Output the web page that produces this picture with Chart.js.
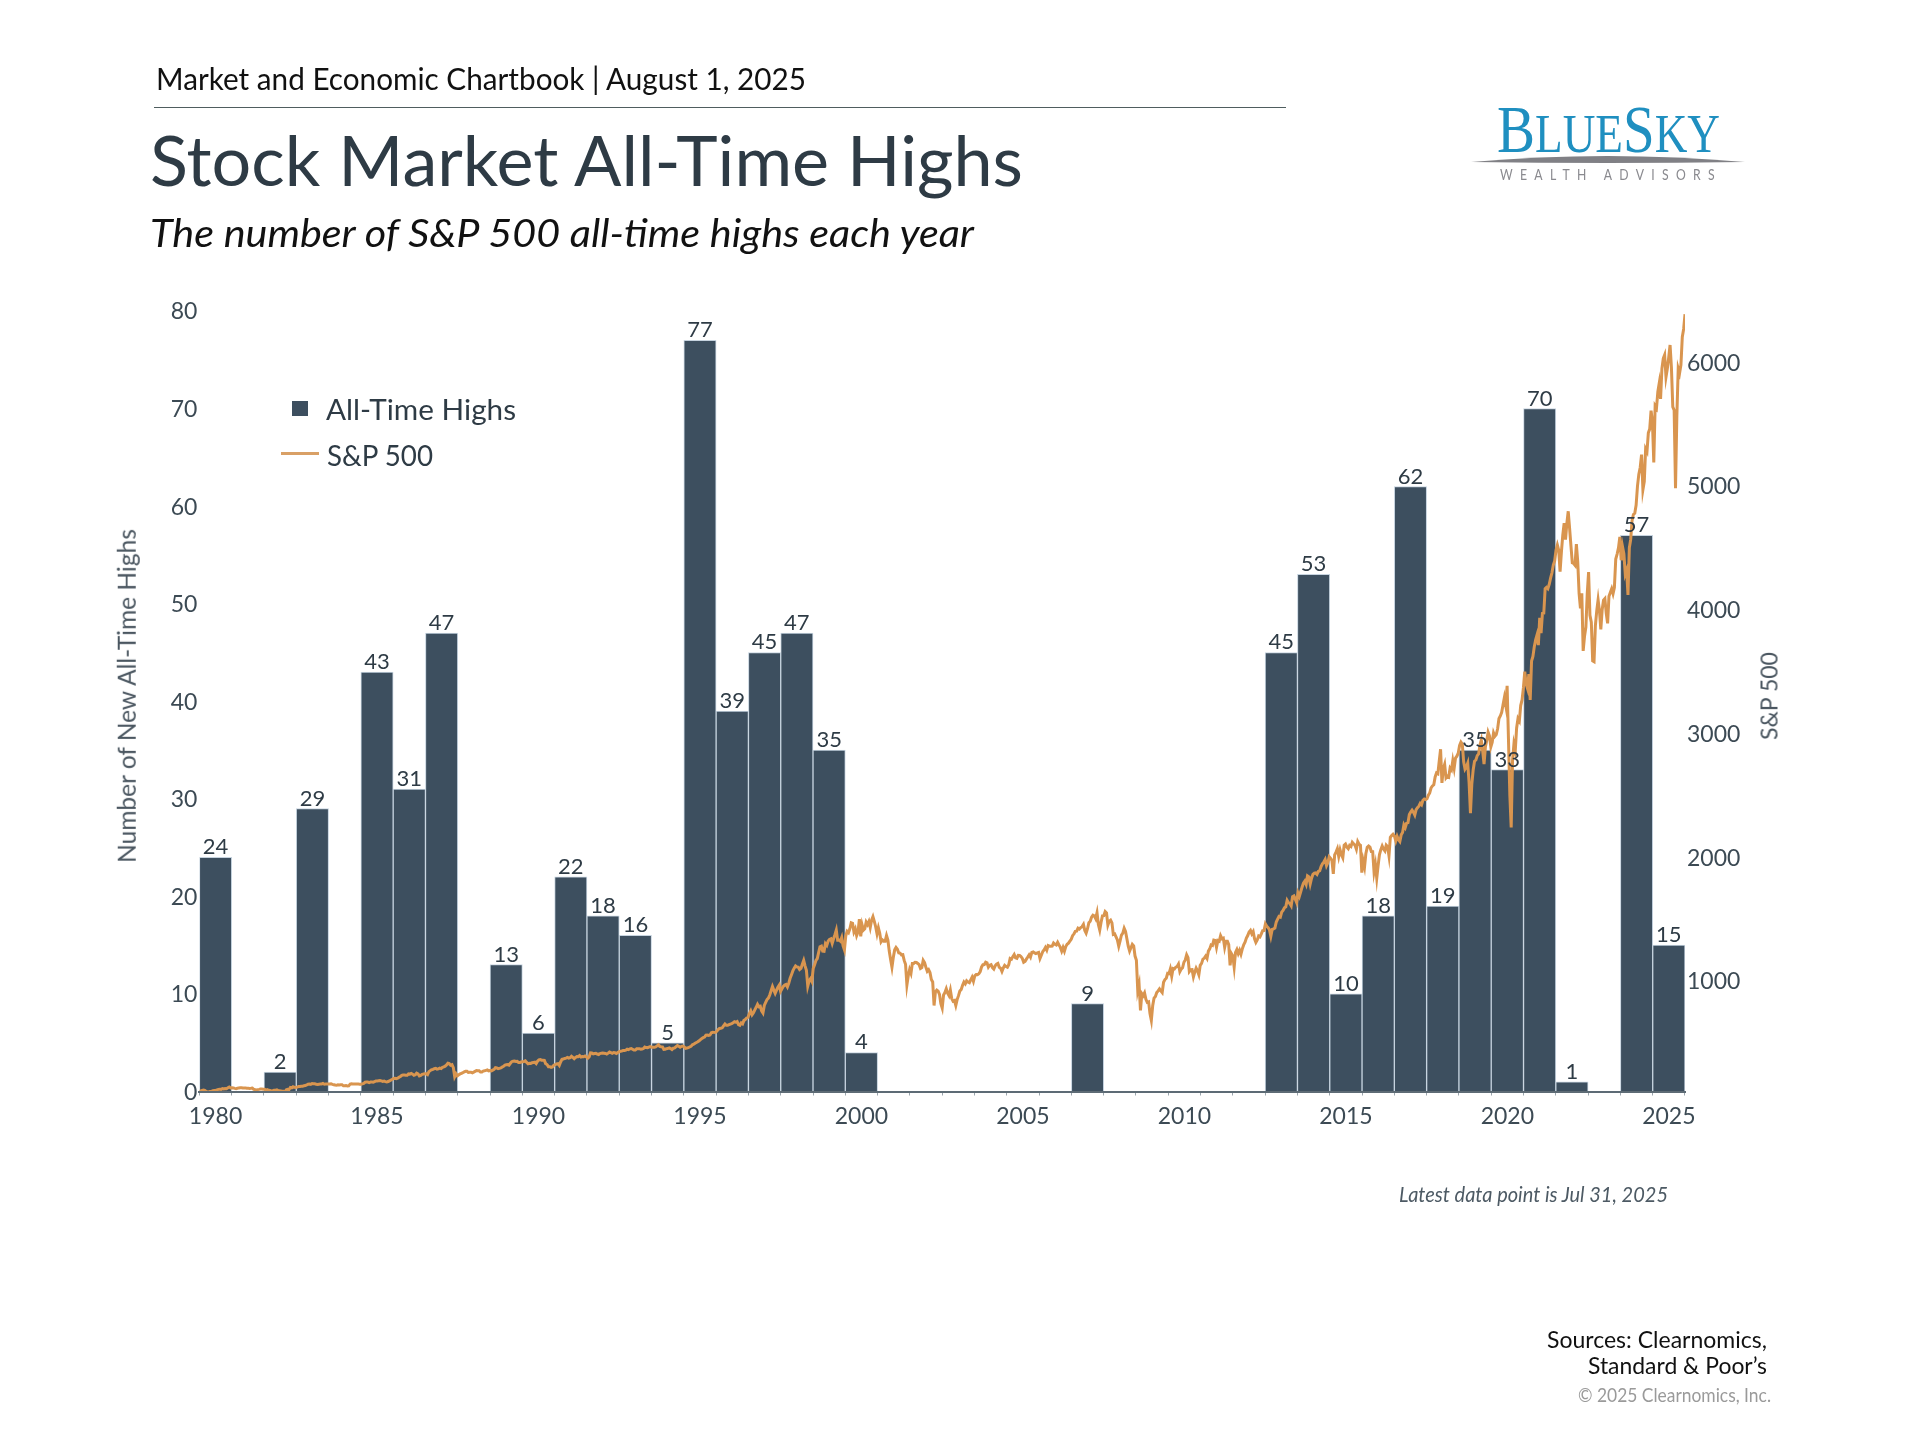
<!DOCTYPE html>
<html>
<head>
<meta charset="utf-8">
<title>Stock Market All-Time Highs</title>
<script src="https://cdn.jsdelivr.net/npm/chart.js@4"></script>
<style>
  html, body { margin: 0; background: #fff; }
  #wrap { position: relative; width: 1920px; height: 1440px; overflow: hidden; font-family: Lato, sans-serif; }
  #chart { position: absolute; left: 0; top: 0; }
  .t { position: absolute; line-height: 1; white-space: nowrap; transform-origin: 0 50%; }
  .v { position: absolute; line-height: 1; white-space: nowrap; transform: translate(-50%, -50%) rotate(-90deg); color: #4a5660; font-size: 24.5px; }
  .box { position: absolute; }
</style>
</head>
<body>
<div id="wrap">
  <canvas id="chart" width="1920" height="1440"></canvas>

  <div class="t" data-w="650" style="left:156px;top:63.4px;font-size:30px;color:#111">Market and Economic Chartbook | August 1, 2025</div>
  <div class="box" style="left:154px;top:106.5px;width:1132px;height:1.5px;background:#4f5d5f"></div>
  <div class="t" data-w="873" style="left:150px;top:124px;font-size:70px;color:#2e3b45">Stock Market All-Time Highs</div>
  <div class="t" data-w="824" style="left:150px;top:213.4px;font-size:39px;font-style:italic;color:#111">The number of S&amp;P 500 all-time highs each year</div>

  <!-- legend -->
  <div class="box" style="left:292px;top:401px;width:16px;height:15px;background:#3d4f5f"></div>
  <div class="t" data-w="190" style="left:326px;top:394.3px;font-size:29px;color:#2e3b45">All-Time Highs</div>
  <div class="box" style="left:281px;top:452px;width:38px;height:2.5px;background:#d9a066"></div>
  <div class="t" data-w="106" style="left:327px;top:440px;font-size:29px;color:#2e3b45">S&amp;P 500</div>

  <!-- axis titles -->
  <div class="v" style="left:127px;top:695.5px">Number of New All-Time Highs</div>
  <div class="v" style="left:1769px;top:695.5px;font-size:23px">S&amp;P 500</div>

  <!-- logo -->
  <div class="t" data-w="223" style="left:1497px;top:95px;font-family:'Liberation Serif',serif;font-size:68px;color:#1f8fc0">B<span style="font-size:54px">LUE</span>S<span style="font-size:54px">KY</span></div>
  <svg class="box" style="left:1460px;top:145px" width="300" height="25"><path d="M11 17 Q147 5 285 17 Q147 19 11 17 Z" fill="#808085"/></svg>
  <div class="t" data-w="222" style="left:1500px;top:167px;font-size:15px;letter-spacing:9px;color:#8a8a8f">WEALTH ADVISORS</div>

  <!-- notes -->
  <div class="t" data-w="269" style="left:1399px;top:1182.5px;font-size:22px;font-style:italic;color:#4d5a64">Latest data point is Jul 31, 2025</div>
  <div class="t" data-w="220" style="left:1547px;top:1327.6px;font-size:23px;color:#111">Sources: Clearnomics,</div>
  <div class="t" data-w="179" style="left:1588px;top:1353.6px;font-size:23px;color:#111">Standard &amp; Poor’s</div>
  <div class="t" data-w="193" style="left:1578px;top:1384px;font-size:20px;color:#9a9a9a">© 2025 Clearnomics, Inc.</div>
</div>

<script>
const years = ['1980','1981','1982','1983','1984','1985','1986','1987','1988','1989',
  '1990','1991','1992','1993','1994','1995','1996','1997','1998','1999',
  '2000','2001','2002','2003','2004','2005','2006','2007','2008','2009',
  '2010','2011','2012','2013','2014','2015','2016','2017','2018','2019',
  '2020','2021','2022','2023','2024','2025'];
const allTimeHighs = [24,0,2,29,0,43,31,47,0,13,
  6,22,18,16,5,77,39,45,47,35,
  4,0,0,0,0,0,0,9,0,0,
  0,0,0,45,53,10,18,62,19,35,
  33,70,1,0,57,15];
const xTickLabels = ['1980','1985','1990','1995','2000','2005','2010','2015','2020','2025'];
const rightTicks = [1000,2000,3000,4000,5000,6000];

// S&P 500, one row per year, two readings a month
const sp500Rows = [
  [106,110,114,117,114,106,102,103,106,108,111,114,114,118,122,124,122,128,125,129,128,135,141,134],
  [136,134,130,128,131,134,136,135,133,133,133,132,131,130,131,133,123,120,116,120,122,125,126,124],
  [123,116,120,115,113,109,112,116,116,118,112,111,110,108,107,103,119,122,120,137,134,143,139,137],
  [141,146,145,148,148,151,153,158,164,166,162,169,168,167,163,162,164,165,166,170,164,166,166,165],
  [165,167,163,160,157,155,159,158,160,160,151,152,153,150,151,165,167,166,166,166,166,165,164,163],
  [167,171,180,181,181,177,181,181,180,185,190,190,192,194,191,187,189,185,182,186,190,198,202,210],
  [211,208,212,220,227,235,239,238,236,236,247,245,251,245,236,240,253,248,231,235,244,246,249,248],
  [242,265,274,281,284,290,292,286,288,294,290,300,304,310,319,333,330,318,322,298,225,248,232,240],
  [247,252,257,263,268,268,259,261,261,256,262,268,274,272,272,262,262,270,272,276,279,272,274,272],
  [278,284,298,296,289,292,295,303,310,318,321,323,318,333,346,350,352,348,349,340,340,343,346,348],
  [353,340,329,333,332,338,340,342,331,350,361,363,358,358,356,330,323,306,306,300,304,318,322,328],
  [330,316,344,365,367,372,375,380,375,378,390,381,371,381,388,386,395,384,388,386,392,385,375,385],
  [417,416,409,412,413,408,404,412,415,416,415,413,408,415,424,419,414,420,418,412,419,425,431,433],
  [436,436,439,447,443,450,452,447,440,440,450,450,451,447,448,452,464,460,459,464,468,463,462,463],
  [466,474,482,470,467,466,446,447,451,454,457,452,444,455,458,468,476,470,463,470,472,465,454,456],
  [459,465,470,483,487,495,501,507,515,525,533,540,545,560,562,559,562,580,584,583,582,592,605,615],
  [616,620,636,651,640,640,645,650,654,660,669,665,671,645,640,660,652,680,687,700,705,735,757,725],
  [741,765,786,810,791,795,757,740,801,825,848,860,885,920,954,925,899,925,947,965,915,935,955,965],
  [970,950,980,1020,1049,1080,1102,1120,1112,1110,1091,1100,1134,1165,1121,1085,957,1000,1017,995,1099,1130,1164,1180],
  [1229,1275,1280,1240,1238,1300,1286,1320,1335,1340,1302,1340,1373,1410,1329,1330,1320,1350,1283,1250,1363,1400,1389,1420],
  [1469,1465,1395,1420,1366,1395,1499,1360,1452,1410,1421,1475,1455,1480,1431,1490,1518,1480,1437,1380,1429,1385,1315,1330],
  [1320,1320,1366,1330,1240,1173,1110,1190,1250,1270,1256,1225,1224,1210,1211,1165,1134,966,1041,1090,1060,1140,1140,1150],
  [1148,1140,1130,1100,1107,1165,1147,1110,1077,1090,1067,1010,990,800,911,925,916,890,815,780,886,905,936,900],
  [880,925,856,835,841,800,848,880,917,930,964,990,975,1000,990,985,1008,1030,996,1040,1051,1050,1058,1075],
  [1112,1130,1131,1150,1145,1110,1126,1130,1107,1095,1121,1135,1141,1110,1102,1075,1104,1125,1115,1110,1130,1180,1174,1195],
  [1212,1185,1181,1205,1204,1195,1181,1150,1157,1175,1192,1210,1191,1230,1234,1225,1220,1225,1229,1180,1207,1235,1250,1270],
  [1248,1285,1280,1280,1281,1305,1295,1290,1311,1290,1270,1240,1270,1240,1277,1295,1304,1320,1336,1365,1378,1400,1401,1425],
  [1418,1430,1438,1456,1407,1385,1421,1470,1482,1515,1531,1525,1503,1550,1455,1410,1474,1525,1527,1560,1549,1450,1481,1490],
  [1468,1375,1379,1355,1331,1280,1323,1370,1386,1425,1400,1340,1280,1240,1267,1295,1283,1200,1166,920,969,760,896,880],
  [903,850,826,830,735,680,798,860,873,905,919,935,919,905,988,1010,1021,1060,1057,1095,1036,1100,1096,1110],
  [1115,1135,1074,1095,1105,1150,1169,1210,1187,1075,1089,1090,1031,1070,1102,1080,1049,1125,1141,1175,1183,1200,1181,1240],
  [1258,1290,1286,1330,1327,1270,1326,1320,1364,1340,1345,1270,1321,1320,1292,1125,1219,1200,1110,1230,1253,1220,1247,1215],
  [1258,1290,1312,1345,1366,1395,1408,1380,1398,1340,1310,1330,1362,1355,1379,1405,1407,1460,1441,1430,1412,1360,1416,1420],
  [1426,1475,1498,1520,1515,1555,1569,1590,1598,1650,1631,1625,1606,1680,1686,1660,1633,1710,1682,1720,1757,1790,1806,1780],
  [1848,1840,1783,1830,1860,1870,1872,1860,1884,1890,1924,1945,1960,1980,1931,1955,2003,1990,1972,1865,2018,2040,2068,2005],
  [2059,2020,1995,2095,2105,2080,2068,2095,2086,2120,2107,2095,2063,2125,2104,2095,1875,1970,1920,2030,2079,2090,2080,2045],
  [2044,1880,1940,1830,1932,2020,2060,2090,2065,2050,2097,2085,2010,2160,2174,2185,2171,2130,2168,2140,2126,2180,2199,2260],
  [2239,2275,2279,2345,2364,2380,2363,2340,2384,2400,2412,2435,2423,2460,2470,2465,2472,2500,2519,2560,2575,2585,2648,2680],
  [2674,2775,2872,2600,2714,2750,2641,2655,2648,2720,2705,2780,2718,2800,2816,2840,2902,2930,2914,2770,2712,2730,2760,2600],
  [2355,2590,2704,2775,2785,2820,2834,2905,2946,2860,2752,2890,2942,3010,2980,2890,2927,3005,2977,2990,3038,3120,3141,3170],
  [3231,3290,3226,3385,2954,2500,2240,2780,2912,2860,3044,3120,3100,3225,3271,3370,3500,3400,3363,3480,3270,3585,3622,3700],
  [3756,3795,3714,3935,3811,3970,3973,4170,4181,4170,4204,4255,4298,4360,4395,4480,4523,4480,4308,4470,4605,4700,4567,4700],
  [4796,4660,4516,4380,4374,4360,4530,4390,4132,4010,4132,3667,3785,3860,4130,4305,3955,3900,3586,3580,3872,3990,4080,3990],
  [3840,4000,4077,4090,3970,3890,4109,4140,4170,4130,4180,4410,4450,4500,4589,4400,4508,4450,4288,4320,4120,4500,4568,4720],
  [4770,4780,4846,5000,5096,5150,5254,4970,5036,5300,5278,5430,5460,5610,5522,5190,5648,5630,5762,5830,5705,5950,6032,6060],
  [5882,5950,6040,6140,5955,5640,5612,4983,5569,5950,5912,5980,6205,6270,6389]
];

const navy = '#3d4f5f';
const sand = '#d9954f';
const tickColor = '#3c4a54';

const sp500Points = sp500Rows.flatMap((row, r) =>
  row.map((v, k) => ({ x: 1980 + r + k / 24, y: v })));

// no tick overhang, so the plot box lands where the layout says
function noMargins(scale) {
  scale.paddingTop = 0;
  scale.paddingBottom = 0;
  scale.paddingLeft = 0;
  scale.paddingRight = 0;
}

const barValueLabels = {
  id: 'barValueLabels',
  afterDatasetsDraw(chart) {
    const ctx = chart.ctx;
    const meta = chart.getDatasetMeta(1);
    ctx.save();
    ctx.font = '22px Lato';
    ctx.fillStyle = '#2e3b45';
    ctx.textAlign = 'center';
    ctx.textBaseline = 'alphabetic';
    meta.data.forEach((bar, i) => {
      if (allTimeHighs[i] > 0) ctx.fillText(String(allTimeHighs[i]), bar.x, bar.y - 3);
    });
    ctx.restore();
  }
};

new Chart(document.getElementById('chart'), {
  data: {
    labels: years,
    datasets: [
      {
        type: 'line',
        label: 'S&P 500',
        data: sp500Points,
        xAxisID: 'xLine',
        yAxisID: 'ySp',
        borderColor: sand,
        borderWidth: 3,
        pointRadius: 0,
        tension: 0,
        order: 0
      },
      {
        type: 'bar',
        label: 'All-Time Highs',
        data: allTimeHighs,
        xAxisID: 'x',
        yAxisID: 'y',
        backgroundColor: navy,
        borderColor: '#c6d3df',
        borderWidth: 1,
        // chart.js halves grouped bars when datasets sit on two x axes
        grouped: false,
        barPercentage: 1,
        categoryPercentage: 1,
        order: 1
      }
    ]
  },
  options: {
    responsive: false,
    devicePixelRatio: 1,
    animation: false,
    layout: { padding: { left: 113, right: 137, top: 311, bottom: 299.5 } },
    plugins: { legend: { display: false }, tooltip: { enabled: false } },
    scales: {
      x: {
        type: 'category',
        offset: true,
        afterFit(s) { noMargins(s); s.height = 49; },
        grid: { drawOnChartArea: false, tickLength: 4, tickColor: '#9aa5ad' },
        border: { color: '#5d6b75', width: 2, z: 1 },
        ticks: {
          autoSkip: false,
          maxRotation: 0,
          padding: 7,
          color: tickColor,
          font: { family: 'Lato', size: 23 },
          callback(v) {
            const label = this.getLabelForValue(v);
            return xTickLabels.includes(label) ? label : '';
          }
        }
      },
      xLine: { type: 'linear', display: false, min: 1980, max: 2025.583 },
      y: {
        position: 'left',
        min: 0,
        max: 80,
        afterFit(s) { noMargins(s); s.width = 86.4; },
        grid: { display: false, drawTicks: false },
        border: { display: false },
        ticks: { stepSize: 10, padding: 2, labelOffset: 1, color: tickColor, font: { family: 'Lato', size: 23 } }
      },
      ySp: {
        position: 'right',
        min: 105,
        max: 6415,
        afterFit(s) { noMargins(s); s.width = 98; },
        afterBuildTicks(s) { s.ticks = rightTicks.map(value => ({ value })); },
        grid: { display: false, drawTicks: false },
        border: { display: false },
        ticks: {
          padding: 2,
          labelOffset: 1,
          color: tickColor,
          font: { family: 'Lato', size: 23 },
          callback: v => String(v)
        }
      }
    }
  },
  plugins: [barValueLabels]
});

// squeeze each text to the width it has in the chart
document.querySelectorAll('[data-w]').forEach(el => {
  const ratio = Number(el.dataset.w) / el.getBoundingClientRect().width;
  el.style.transform = 'scaleX(' + ratio + ')';
});
</script>
</body>
</html>
